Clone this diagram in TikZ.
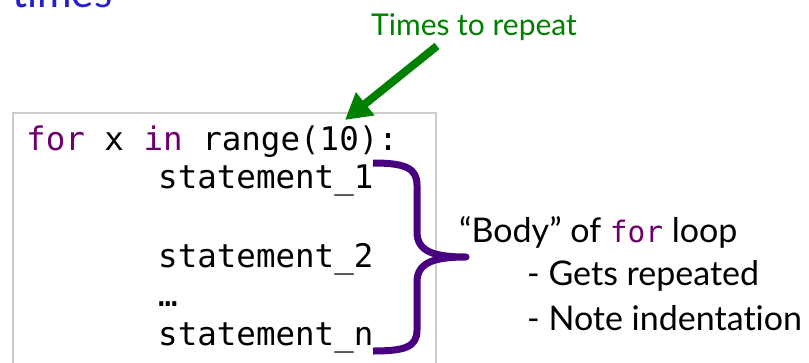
\documentclass[tikz,border=0pt]{standalone}
\usepackage{fontspec}
\setmainfont{Lato}[Ligatures={NoCommon,NoRare,NoContextual}]
\setmonofont{DejaVu Sans Mono}
\usetikzlibrary{arrows.meta}
\definecolor{kw}{RGB}{110,0,110}
\definecolor{bracecol}{RGB}{72,0,128}
\definecolor{grn}{RGB}{0,128,0}
\definecolor{hblue}{RGB}{40,30,200}
\begin{document}
\begin{tikzpicture}[x=1pt,y=-1pt,
  code/.style={anchor=base west,inner sep=0,font=\fontsize{32.5}{39}\ttfamily},
  txt/.style={anchor=base west,inner sep=0,font=\fontsize{34}{40}\selectfont},
  codebox/.style={draw=black!20,line width=1.5},
  bracestyle/.style={draw=bracecol,line width=7,line join=round},
  arrowstyle/.style={draw=grn,line width=8,-{Triangle[length=26,width=28]}}]
\useasboundingbox (0,0) rectangle (809,362);
\clip (0,0) rectangle (809,362);
\node[anchor=base west,inner sep=0,text=hblue,font=\fontsize{42}{48}\selectfont] (head) at (12,7) {times};
\draw[codebox] (13,113) rectangle (436,380);
\node[code] (l1) at (26,150) {{\color{kw}for} x {\color{kw}in} range(10):};
\node[code] (l2) at (158,188) {statement\_1};
\node[code] (l3) at (158,267) {statement\_2};
\node[code] (l4) at (158,306) {…};
\node[code] (l5) at (158,345) {statement\_n};
\node[txt,text=grn,font=\fontsize{30}{36}\selectfont] (rep) at (371,35) {Times to repeat};
\coordinate (as) at (437,46);
\coordinate (ae) at (345,120);
\draw[arrowstyle] (as) -- (ae);
\coordinate (btop) at (373,163);
\coordinate (btip) at (466,257);
\coordinate (bbot) at (373,351);
\draw[bracestyle] (btop) .. controls (405,163) and (417,168) .. (417,185) -- (417,232)
  .. controls (417,252) and (435,257) .. (btip)
  .. controls (435,257) and (417,262) .. (417,282) -- (417,330)
  .. controls (417,347) and (405,351) .. (bbot);
\node[txt] (body) at (459,242) {“Body” of {\color{kw}\fontsize{29.5}{34}\ttfamily for} loop};
\node[txt] (g1) at (527,285) {- Gets repeated};
\node[txt] (g2) at (527,330) {- Note indentation};
\end{tikzpicture}
\end{document}
